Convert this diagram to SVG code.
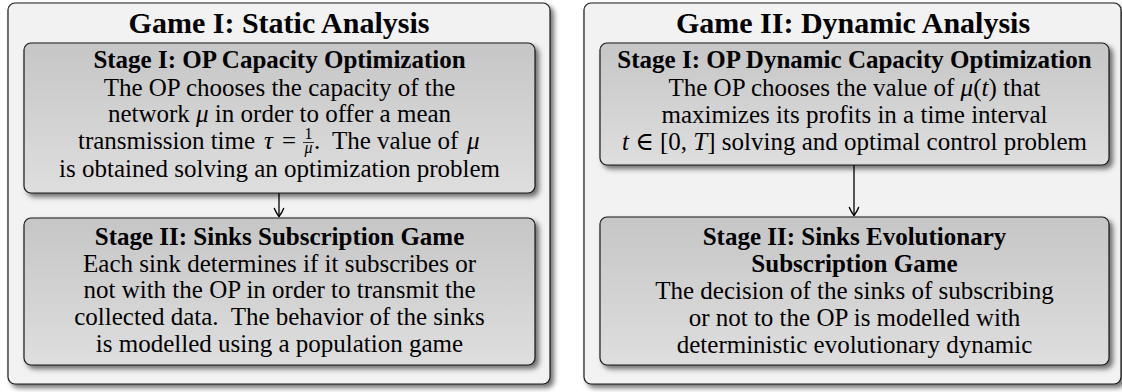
<svg xmlns="http://www.w3.org/2000/svg" width="1122" height="392" viewBox="0 0 1122 392">
  <defs>
    <filter id="shadow" x="-5%" y="-5%" width="115%" height="120%">
      <feDropShadow dx="3.5" dy="3.5" stdDeviation="2.5" flood-color="#000" flood-opacity="0.55"/>
    </filter>
    <linearGradient id="innerFill" x1="0" y1="0" x2="0" y2="1">
      <stop offset="0" stop-color="#c6c6c6"/>
      <stop offset="1" stop-color="#dedede"/>
    </linearGradient>
    <marker id="arrow" viewBox="-10 -6 12 12" markerWidth="12" markerHeight="12" refX="0" refY="0" orient="auto" markerUnits="userSpaceOnUse">
      <path d="M -8 -4.6 C -4.5 -3.2 -1.5 -1.2 0 0 C -1.5 1.2 -4.5 3.2 -8 4.6" fill="none" stroke="#000" stroke-width="1.4" stroke-linecap="round"/>
    </marker>
    <style>
      .outer { fill: #f2f2f2; stroke: #1a1a1a; stroke-width: 1.2; filter: url(#shadow); }
      .inner { fill: url(#innerFill); stroke: #1a1a1a; stroke-width: 1.2; filter: url(#shadow); }
      .title { font-family: "Liberation Serif", "DejaVu Serif", serif; font-weight: bold; font-size: 30px; fill: #000; text-anchor: middle; }
      .head { font-family: "Liberation Serif", "DejaVu Serif", serif; font-weight: bold; font-size: 25px; fill: #000; text-anchor: middle; }
      .body { font-family: "Liberation Serif", "DejaVu Serif", serif; font-size: 25px; fill: #000; text-anchor: middle; }
      .bodyl { font-family: "Liberation Serif", "DejaVu Serif", serif; font-size: 25px; fill: #000; }
      .frac { font-family: "Liberation Serif", "DejaVu Serif", serif; font-size: 16px; fill: #000; text-anchor: middle; }
      .m { font-style: italic; }
      .conn { stroke: #000; stroke-width: 1.3; fill: none; marker-end: url(#arrow); }
    </style>
  </defs>

  <g id="game1">
    <rect class="outer" x="8" y="3" width="542" height="381" rx="7"/>
    <text class="title" x="279" y="33">Game I: Static Analysis</text>
  </g>

  <g id="game2">
    <rect class="outer" x="584" y="3" width="537" height="381" rx="7"/>
    <text class="title" x="853" y="33">Game II: Dynamic Analysis</text>
  </g>

  <g id="g1stage1">
    <rect class="inner" x="24" y="43" width="511" height="150" rx="7"/>
    <text class="head" x="279.5" y="68">Stage I: OP Capacity Optimization</text>
    <text class="body" x="279.5" y="96">The OP chooses the capacity of the</text>
    <text class="body" x="279.5" y="122">network <tspan class="m">μ</tspan> in order to offer a mean</text>
    <text class="bodyl" x="78" y="149">transmission time</text>
    <text class="bodyl m" x="264" y="149">τ</text>
    <text class="bodyl" x="282" y="149">=</text>
    <text class="frac" x="308.5" y="139">1</text>
    <line x1="303" y1="142.5" x2="314" y2="142.5" stroke="#000" stroke-width="0.8"/>
    <text class="frac m" x="308.5" y="152.5">μ</text>
    <text class="bodyl" x="314" y="149">.</text>
    <text class="bodyl" x="332" y="149">The value of</text>
    <text class="bodyl m" x="467" y="149">μ</text>
    <text class="body" x="279.5" y="177">is obtained solving an optimization problem</text>
  </g>

  <g id="g1stage2">
    <rect class="inner" x="24" y="218" width="511" height="147" rx="7"/>
    <text class="head" x="279.5" y="245">Stage II: Sinks Subscription Game</text>
    <text class="body" x="279.5" y="272">Each sink determines if it subscribes or</text>
    <text class="body" x="279.5" y="298">not with the OP in order to transmit the</text>
    <text class="body" x="279.5" y="325" xml:space="preserve">collected data.  The behavior of the sinks</text>
    <text class="body" x="279.5" y="352">is modelled using a population game</text>
  </g>

  <g id="g2stage1">
    <rect class="inner" x="600" y="43" width="509" height="122" rx="7"/>
    <text class="head" x="854.5" y="68">Stage I: OP Dynamic Capacity Optimization</text>
    <text class="body" x="854.5" y="96">The OP chooses the value of <tspan class="m">μ</tspan>(<tspan class="m">t</tspan>) that</text>
    <text class="body" x="854.5" y="123">maximizes its profits in a time interval</text>
    <text class="body" x="854.5" y="150"><tspan class="m">t</tspan> ∈ [0, <tspan class="m">T</tspan>] solving and optimal control problem</text>
  </g>

  <g id="g2stage2">
    <rect class="inner" x="600" y="217" width="509" height="148" rx="7"/>
    <text class="head" x="854.5" y="245">Stage II: Sinks Evolutionary</text>
    <text class="head" x="854.5" y="272">Subscription Game</text>
    <text class="body" x="854.5" y="299">The decision of the sinks of subscribing</text>
    <text class="body" x="854.5" y="326">or not to the OP is modelled with</text>
    <text class="body" x="854.5" y="353">deterministic evolutionary dynamic</text>
  </g>

  <g id="connectors">
    <line class="conn" x1="279" y1="193" x2="279" y2="216.5"/>
    <line class="conn" x1="854" y1="165" x2="854" y2="215.5"/>
  </g>
</svg>
